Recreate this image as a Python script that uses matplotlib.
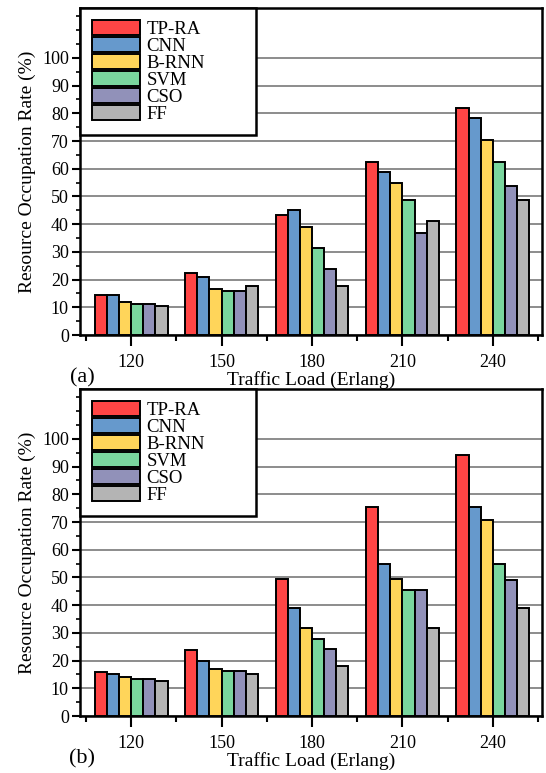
import numpy as np
import matplotlib.pyplot as plt
from matplotlib.ticker import MultipleLocator

plt.rcParams['font.family'] = ['Liberation Serif', 'DejaVu Serif']

# traffic load categories (Erlang)
loads = ["120", "150", "180", "210", "240"]
methods = ["TP-RA", "CNN", "B-RNN", "SVM", "CSO", "FF"]
colors = ["#FF4545", "#6699CC", "#FFD55A", "#7AD69E", "#9191B9", "#B4B4B4"]

# (a) resource occupation rate (%)
tpra_a = [14.6, 22.2, 43.2, 62.6, 82.0]
cnn_a = [14.6, 21.0, 45.0, 58.8, 78.3]
brnn_a = [11.9, 16.6, 38.8, 54.8, 70.5]
svm_a = [11.3, 16.0, 31.4, 48.6, 62.6]
cso_a = [11.2, 15.8, 23.8, 36.9, 53.6]
ff_a = [10.4, 17.7, 17.7, 41.1, 48.8]

# (b) resource occupation rate (%)
tpra_b = [16.0, 24.0, 49.4, 75.4, 94.1]
cnn_b = [15.1, 19.9, 39.1, 54.8, 75.4]
brnn_b = [14.2, 16.9, 31.8, 49.3, 70.6]
svm_b = [13.5, 16.2, 27.7, 45.5, 54.8]
cso_b = [13.4, 16.1, 24.1, 45.5, 49.1]
ff_b = [12.6, 15.1, 18.1, 31.8, 39.1]

series_a = [tpra_a, cnn_a, brnn_a, svm_a, cso_a, ff_a]
series_b = [tpra_b, cnn_b, brnn_b, svm_b, cso_b, ff_b]

fig = plt.figure(figsize=(5.46, 7.73), dpi=100)
ax_a = fig.add_axes([0.1465, 0.5666, 0.8462, 0.4231])
ax_b = fig.add_axes([0.1465, 0.0737, 0.8462, 0.4231])

x = np.arange(len(loads))
bar_w = 0.134


def draw_panel(ax, series, tag):
    for i, (name, vals) in enumerate(zip(methods, series)):
        ax.bar(x + (i - 2.5) * bar_w, vals, bar_w, color=colors[i],
               edgecolor="black", linewidth=1.4, label=name, zorder=3)

    ax.set_xlim(-0.566, 4.544)
    ax.set_ylim(0, 118)
    ax.set_xticks(x)
    ax.set_xticklabels(loads)
    ax.set_xticks(np.arange(-0.5, 5.0, 1.0), minor=True)
    ax.set_yticks(np.arange(0, 101, 10))
    ax.yaxis.set_minor_locator(MultipleLocator(5))
    ax.tick_params(axis="both", which="major", direction="out", labelsize=13,
                   width=1.5, color="black")
    ax.tick_params(axis="x", which="major", length=8, pad=6)
    ax.tick_params(axis="y", which="major", length=6, pad=2)
    ax.tick_params(axis="x", which="minor", length=4, width=1.5)
    ax.tick_params(axis="y", which="minor", length=3, width=1.2)

    for s in ax.spines.values():
        s.set_linewidth(1.8)
        s.set_color("black")

    # horizontal grid lines 10..100
    ax.set_axisbelow(True)
    ax.grid(axis="y", which="major", color="#8C8C8C", linewidth=1.4, zorder=0)

    ax.set_xlabel("Traffic Load (Erlang)", fontsize=14, labelpad=0)
    ax.set_ylabel("Resource Occupation Rate (%)", fontsize=14, labelpad=4)
    ax.text(0.005, -0.132, tag, transform=ax.transAxes, fontsize=16,
            ha="center", va="center")

    leg = ax.legend(loc="upper left", bbox_to_anchor=(0, 0, 0.381, 1.0),
                    mode="expand", fontsize=13.5, frameon=True, fancybox=False,
                    framealpha=1, borderaxespad=0, borderpad=0.65,
                    handlelength=2.55, handleheight=0.85, labelspacing=-0.05,
                    handletextpad=0.35)
    leg.get_frame().set_edgecolor("black")
    leg.get_frame().set_linewidth(1.8)
    leg.set_zorder(5)


draw_panel(ax_a, series_a, "(a)")
draw_panel(ax_b, series_b, "(b)")

fig.savefig("out.png", dpi=100)
